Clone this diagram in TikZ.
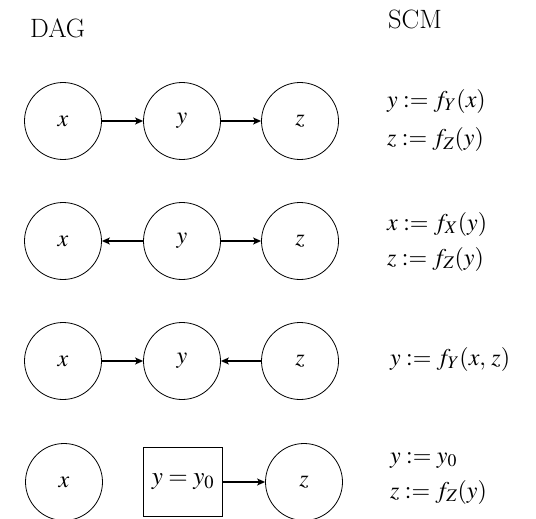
\RequirePackage{fix-cm}
\documentclass[tikz,border=0pt]{standalone}
\usepackage{mathptmx}
\renewcommand{\rmdefault}{lmr}
\usetikzlibrary{arrows.meta}
\begin{document}
\begin{tikzpicture}[x=1pt,y=-1pt,
  var/.style={circle,draw,line width=0.8pt,minimum size=77pt,inner sep=0pt,font=\fontsize{24}{28}\selectfont},
  fixed/.style={rectangle,draw,line width=0.8pt,minimum width=79pt,minimum height=69pt,inner sep=2pt,font=\fontsize{25}{28}\selectfont},
  edge/.style={line width=1.3pt,-{Stealth[length=8pt,width=7pt,inset=2pt]}},
  head/.style={font=\fontsize{26.5}{30}\selectfont,anchor=base west,inner sep=0pt},
  eq/.style={font=\fontsize{24}{28}\selectfont,anchor=base west,inner sep=0pt}]
\useasboundingbox (0,0) rectangle (536,519);
\node[head] (dag) at (30,38) {DAG};
\node[head] (scm) at (388,29) {SCM};
% row 1
\node[var] (x1) at (63,121) {$x$};
\node[var] (y1) at (182,121) {$y$};
\node[var] (z1) at (300,121) {$z$};
\draw[edge] (x1) -- (y1);
\draw[edge] (y1) -- (z1);
\node[eq] (e1a) at (387,107) {$y := f_Y(x)$};
\node[eq] (e1b) at (387,146) {$z := f_Z(y)$};
% row 2
\node[var] (x2) at (63,241) {$x$};
\node[var] (y2) at (182,241) {$y$};
\node[var] (z2) at (300,241) {$z$};
\draw[edge] (y2) -- (x2);
\draw[edge] (y2) -- (z2);
\node[eq] (e2a) at (387,230) {$x := f_X(y)$};
\node[eq] (e2b) at (387,265) {$z := f_Z(y)$};
% row 3
\node[var] (x3) at (63,361) {$x$};
\node[var] (y3) at (182,361) {$y$};
\node[var] (z3) at (300,361) {$z$};
\draw[edge] (x3) -- (y3);
\draw[edge] (z3) -- (y3);
\node[eq] (e3a) at (390,365) {$y := f_Y(x,\,z)$};
% row 4
\node[var] (x4) at (64,482) {$x$};
\node[fixed] (y4) at (183,482) {$y = y_0$};
\node[var] (z4) at (304,482) {$z$};
\draw[edge] (y4) -- (z4);
\node[eq] (e4a) at (390,463) {$y := y_0$};
\node[eq] (e4b) at (390,498) {$z := f_Z(y)$};
\end{tikzpicture}
\end{document}
